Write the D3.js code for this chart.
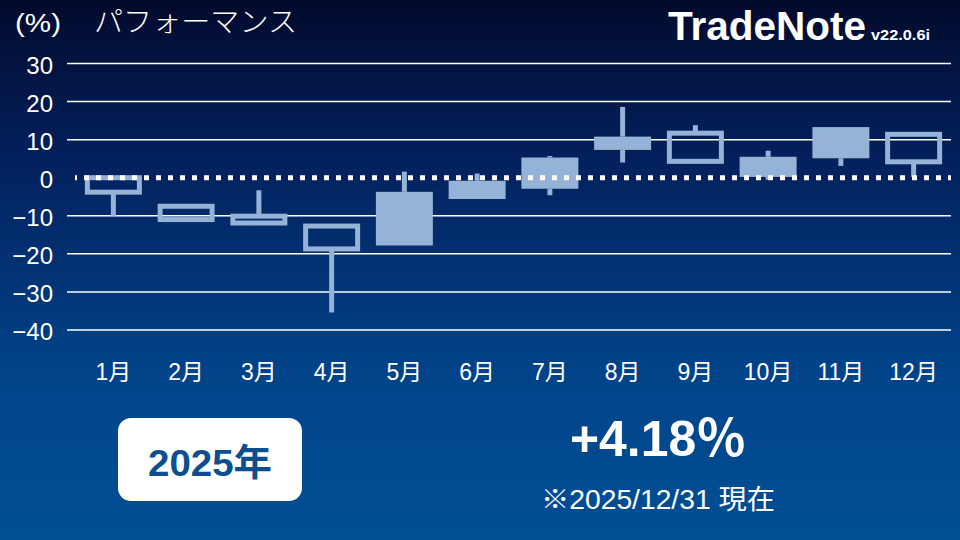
<!DOCTYPE html>
<html><head><meta charset="utf-8">
<script src="https://cdn.jsdelivr.net/npm/d3@7"></script>
<style>
html,body{margin:0;padding:0;background:#01104a;}
svg{display:block;}
text{font-family:"Liberation Sans","Noto Sans CJK JP",sans-serif;}
</style></head>
<body>
<svg id="chart" width="960" height="540"></svg>
<script>
const months = ["1月","2月","3月","4月","5月","6月","7月","8月","9月","10月","11月","12月"];
const opens  = [0, -7.5, -10.1, -12.7, -17.8, -5.6, -2.9, 7.3, 11.7, 0.2, 5.1, 11.4];
const closes = [-3.8, -11.0, -11.9, -18.7, -3.7, -0.8, 5.3, 10.8, 4.3, 5.5, 13.3, 4.18];
const highs  = [0, -7.5, -3.3, -12.7, 1.6, 1.1, 5.7, 18.6, 13.8, 7.1, 13.3, 11.4];
const lows   = [-10.0, -11.0, -11.9, -35.4, -17.8, -5.6, -4.6, 4.0, 4.3, -0.5, 3.1, 0.2];
const yTicks = [30, 20, 10, 0, -10, -20, -30, -40];

const W = 960, H = 540;
const svg = d3.select("#chart");
const defs = svg.append("defs");
const grad = defs.append("linearGradient").attr("id","bg").attr("x1",0).attr("y1",0).attr("x2",0).attr("y2",1);
grad.append("stop").attr("offset","0%").attr("stop-color","#020a2c");
grad.append("stop").attr("offset","30%").attr("stop-color","#03215e");
grad.append("stop").attr("offset","70%").attr("stop-color","#01448a");
grad.append("stop").attr("offset","100%").attr("stop-color","#014f95");
svg.append("rect").attr("width",W).attr("height",H).attr("fill","url(#bg)");

const x = d3.scaleBand().domain(months).range([77, 950]).padding(0);
const y = d3.scaleLinear().domain([-40, 30]).range([330, 63.5]);
const candleColor = "#95b2d7";

// grid
svg.append("g").selectAll("line").data(yTicks.filter(d => d !== 0)).join("line")
  .attr("x1", 67).attr("x2", 951)
  .attr("y1", d => y(d)).attr("y2", d => y(d))
  .attr("stroke", "#ffffff").attr("stroke-width", 1.5);

// y axis labels
const yAxis = d3.axisLeft(y).tickValues(yTicks).tickSize(0).tickPadding(0);
const gy = svg.append("g").attr("transform","translate(53,1)").call(yAxis);
gy.select(".domain").remove();
gy.selectAll("text").attr("fill","#ffffff").attr("font-size",24)
  .attr("font-family","'Liberation Sans',Arial,sans-serif").attr("dy","0.36em");

// x axis labels
const xAxis = d3.axisBottom(x).tickSize(0).tickPadding(0);
const gx = svg.append("g").attr("transform","translate(0,364)").call(xAxis);
gx.select(".domain").remove();
gx.selectAll("text").attr("fill","#ffffff").attr("font-size",23)
  .attr("font-family","'Liberation Sans','Noto Sans CJK JP',sans-serif").attr("dy","0.71em");

// candles
const data = months.map((m,i) => ({m, o:opens[i], c:closes[i], h:highs[i], l:lows[i]}));
const bw = x.bandwidth();
const boxW = 57, sw = 5;
const g = svg.append("g");
data.forEach(d => {
  const cx = x(d.m) + bw/2;
  const top = Math.max(d.o, d.c), bot = Math.min(d.o, d.c);
  const hollow = d.c < d.o;
  if (d.h > top) g.append("line").attr("x1",cx).attr("x2",cx).attr("y1",y(d.h)).attr("y2",y(top))
      .attr("stroke",candleColor).attr("stroke-width",sw);
  if (d.l < bot) g.append("line").attr("x1",cx).attr("x2",cx).attr("y1",y(bot)).attr("y2",y(d.l))
      .attr("stroke",candleColor).attr("stroke-width",sw);
  if (hollow) {
    g.append("rect").attr("x", cx - boxW/2 + sw/2).attr("width", boxW - sw)
      .attr("y", y(top)).attr("height", Math.max(0.5, y(bot) - y(top)))
      .attr("fill","none").attr("stroke",candleColor).attr("stroke-width",sw);
  } else {
    g.append("rect").attr("x", cx - boxW/2).attr("width", boxW)
      .attr("y", y(top)).attr("height", Math.max(1, y(bot) - y(top)))
      .attr("fill",candleColor);
  }
});

// zero dotted line
svg.append("line").attr("x1",75).attr("x2",951).attr("y1",y(0)).attr("y2",y(0))
  .attr("stroke","#ffffff").attr("stroke-width",5).attr("stroke-dasharray","5,7")
  .attr("stroke-dashoffset",3);

// header
svg.append("text").attr("x",15).attr("y",32).attr("fill","#fff").attr("font-size",26)
  .attr("font-family","'Liberation Sans',sans-serif").attr("textLength",46).attr("lengthAdjust","spacingAndGlyphs").text("(%)");
svg.append("text").attr("x",94).attr("y",32).attr("fill","#fff").attr("font-size",28)
  .attr("font-family","'Noto Sans CJK JP',sans-serif").attr("font-weight",300)
  .attr("textLength",203).attr("lengthAdjust","spacingAndGlyphs").text("パフォーマンス");
svg.append("text").attr("x",668).attr("y",40).attr("fill","#fff").attr("font-size",40)
  .attr("font-weight","bold").attr("font-family","'Liberation Sans',Arial,sans-serif")
  .attr("textLength",198).attr("lengthAdjust","spacingAndGlyphs").text("TradeNote");
svg.append("text").attr("x",871).attr("y",40).attr("fill","#fff").attr("font-size",15)
  .attr("font-weight","bold").attr("font-family","'Liberation Sans',Arial,sans-serif")
  .attr("textLength",59).attr("lengthAdjust","spacingAndGlyphs").text("v22.0.6i");

// year box
svg.append("rect").attr("x",118).attr("y",418).attr("width",184).attr("height",83).attr("rx",13)
  .attr("fill","#ffffff");
svg.append("text").attr("x",210).attr("y",476).attr("text-anchor","middle").attr("fill","#0b4f8f")
  .attr("font-size",37).attr("font-weight","bold").attr("font-family","'Liberation Sans','Noto Sans CJK JP',sans-serif")
  .attr("textLength",124).attr("lengthAdjust","spacingAndGlyphs").text("2025年");

// total
svg.append("text").attr("x",658).attr("y",456).attr("text-anchor","middle").attr("fill","#fff")
  .attr("font-size",50).attr("font-weight","bold").attr("font-family","'Liberation Sans','Noto Sans CJK JP',sans-serif")
  .attr("textLength",176).attr("lengthAdjust","spacingAndGlyphs").text("+4.18％");
svg.append("text").attr("x",658).attr("y",509).attr("text-anchor","middle").attr("fill","#fff")
  .attr("font-size",27).attr("font-family","'Liberation Sans','Noto Sans CJK JP',sans-serif")
  .attr("textLength",234).attr("lengthAdjust","spacingAndGlyphs").text("※2025/12/31 現在");
</script>
</body></html>
